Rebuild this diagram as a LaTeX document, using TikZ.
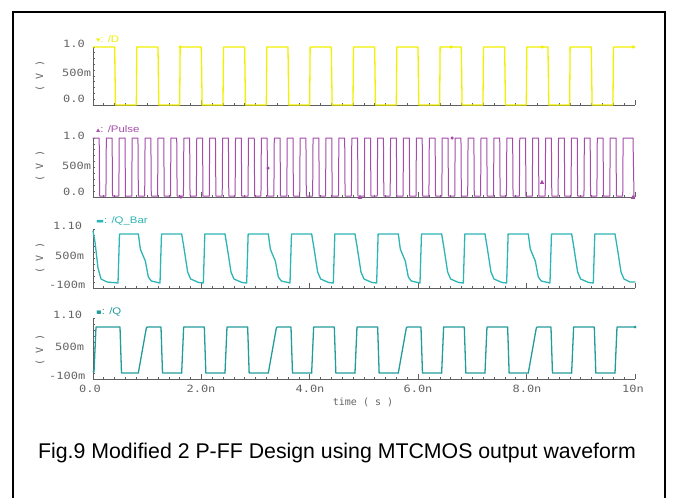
\documentclass[tikz,border=0pt]{standalone}
\usepackage{graphicx}
\usepackage{fontspec}
\setmainfont{Liberation Sans}
\newfontfamily\wavefont{DejaVu Sans Mono}
\newfontfamily\markfont{DejaVu Sans}
\usepackage{tikz}
\usetikzlibrary{arrows.meta,positioning}

\definecolor{dyellow}{RGB}{240,240,0}
\definecolor{ppurple}{RGB}{165,75,170}
\definecolor{qbteal}{RGB}{45,180,180}
\definecolor{qteal}{RGB}{35,155,155}
\definecolor{axgray}{RGB}{95,95,95}
\definecolor{labgray}{RGB}{100,100,100}

\newcommand{\widetxt}[1]{\scalebox{1.2}[1]{#1}}

\begin{document}
\begin{tikzpicture}[x=1pt, y=-1pt,
    sig/.style={line width=1.3pt, line join=round, line cap=round},
    axisline/.style={axgray, line width=0.7pt},
    ylab/.style={labgray, anchor=west, inner sep=0pt, font=\wavefont\fontsize{10}{10}\selectfont},
    unitlab/.style={labgray, rotate=90, inner sep=0pt, font=\wavefont\fontsize{10}{10}\selectfont},
    tlab/.style={labgray, inner sep=0pt, font=\wavefont\fontsize{10}{10}\selectfont},
    signame/.style={anchor=west, inner sep=0pt, font=\fontsize{9.5}{9.5}\selectfont},
    mk/.style={circle, fill, inner sep=0pt, minimum size=3.5pt}]
    \useasboundingbox (0,0) rectangle (686,498);
    \def\xo{93}
    \def\per{43.33}
    \def\hw{21.67}

    % frame
    \draw[line width=2.5pt] (13,498) -- (13,12) -- (665,12) -- (665,498);

    % x axes with ticks
    \foreach \ay in {105,197,288,379}{
        \draw[axisline] (93,\ay) -- (635,\ay);
        \foreach \i in {1,...,50} \draw[axisline] ({93+10.84*\i},\ay) -- ++(0,-2.5);
        \foreach \i in {1,...,5} \draw[axisline] ({93+108.4*\i},\ay) -- ++(0,-5);
    }
    % y axes with ticks
    \foreach \ya/\yb in {47/105,138/197,229/288,318/379}{
        \draw[axisline] (93,\ya) -- (93,\yb);
        \foreach \j in {0,...,10} \draw[axisline] (93,{\ya+(\yb-\ya)*\j/10}) -- ++(2,0);
    }

    % y labels
    \node[ylab] (dhi) at (63,44) {\widetxt{1.0}};
    \node[ylab] (dmid) at (62,73) {\widetxt{500m}};
    \node[ylab] (dlo) at (63,99) {\widetxt{0.0}};
    \node[ylab] (phi) at (63,136) {\widetxt{1.0}};
    \node[ylab] (pmid) at (62,166) {\widetxt{500m}};
    \node[ylab] (plo) at (63,192) {\widetxt{0.0}};
    \node[ylab] (qbhi) at (53,226) {\widetxt{1.10}};
    \node[ylab] (qbmid) at (55,256) {\widetxt{500m}};
    \node[ylab] (qblo) at (49,285) {\widetxt{-100m}};
    \node[ylab] (qhi) at (53,315) {\widetxt{1.10}};
    \node[ylab] (qmid) at (55,347) {\widetxt{500m}};
    \node[ylab] (qlo) at (49,376) {\widetxt{-100m}};

    \node[unitlab] (du) at (40,76) {( V )};
    \node[unitlab] (pu) at (40,166) {( V )};
    \node[unitlab] (qbu) at (40,258) {( V )};
    \node[unitlab] (qu) at (40,350) {( V )};

    % signal names
    \node[signame, dyellow] (dname) at (96,39) {\widetxt{{\markfont\fontsize{7}{7}\selectfont ▾}: /D}};
    \node[signame, ppurple] (pname) at (96,129) {\widetxt{{\markfont\fontsize{7}{7}\selectfont ▴}: /Pulse}};
    \node[signame, qbteal] (qbname) at (96,221) {\widetxt{{\markfont\fontsize{7}{7}\selectfont ▬}: /Q\_Bar}};
    \node[signame, qteal] (qname) at (96,312) {\widetxt{{\markfont\fontsize{7}{7}\selectfont ▪}: /Q}};

    % time axis labels
    \node[tlab] (t0) at (90,389) {\widetxt{0.0}};
    \node[tlab] (t2) at (201,389) {\widetxt{2.0n}};
    \node[tlab] (t4) at (310,389) {\widetxt{4.0n}};
    \node[tlab] (t6) at (418,389) {\widetxt{6.0n}};
    \node[tlab] (t8) at (527,389) {\widetxt{8.0n}};
    \node[tlab] (t10) at (633,389) {\widetxt{10n}};
    \node[tlab] (tname) at (363,402) {time ( s )};

    % D
    \draw[sig, dyellow] (93,47) \foreach \k in {0,...,11}{
        -- ({\xo+\per*\k+\hw},47) -- ({\xo+\per*\k+\hw+0.8},105)
        -- ({\xo+\per*(\k+1)},105) -- ({\xo+\per*(\k+1)+0.5},47)} -- (635,47);
    \foreach \mx in {180,451,542,633} \node[mk, dyellow] at (\mx,47) {};

    % Pulse
    \draw[sig, ppurple, line width=1pt] (93,138) \foreach \k in {0,...,40}{
        -- ({93+12.92*\k+6.2},138) -- ({93+12.92*\k+6.6},196)
        -- ({93+12.92*(\k+1)},196) -- ({93+12.92*(\k+1)+0.4},138)}
        -- (633,138) -- (634,196) -- (635,196);
    \node[mk, ppurple] at (181,197) {};
    \node[mk, ppurple] at (268,168) {};
    \node[mk, ppurple] at (452,138) {};
    \foreach \mx/\my in {360/197,542/182,633/197}
        \fill[ppurple] (\mx-2.2,\my+1.8) -- (\mx+2.2,\my+1.8) -- (\mx,\my-2.2) -- cycle;

    % Q_Bar
    \draw[sig, qbteal] (93,231) -- (95,242) -- (98,268) -- (101,279) -- (107,282) -- (118,283) -- (119.5,234) -- (138,234);
    \foreach \k in {2,3,5,6,8,9,11}
        \draw[sig, qbteal] ({\xo+\per*\k+2},234) -- ({\xo+\per*\k+4},246) -- ({\xo+\per*\k+8},272)
            -- ({\xo+\per*\k+11},279) -- ({\xo+\per*\k+19},282.5) -- ({\xo+\per*\k+\hw+2},283)
            -- ({\xo+\per*\k+\hw+3.5},234) -- ({\xo+\per*(\k+1)+2},234);
    \foreach \k in {1,4,7,10}
        \draw[sig, qbteal] ({\xo+\per*\k+2},234) -- ({\xo+\per*\k+4},249) -- ({\xo+\per*\k+6},254)
            -- ({\xo+\per*\k+9},261) -- ({\xo+\per*\k+12},277) -- ({\xo+\per*\k+15},281)
            -- ({\xo+\per*\k+\hw+2},283) -- ({\xo+\per*\k+\hw+3.5},234) -- ({\xo+\per*(\k+1)+2},234);
    \draw[sig, qbteal] (615,234) -- (617,246) -- (621,272) -- (624,279) -- (630,282) -- (635,282);

    % Q
    \draw[sig, qteal] (93,371) -- (94,372) -- (96,327) -- (120,327) -- (121.5,373) -- (138,373);
    \foreach \k in {2,3,5,6,8,9,11}
        \draw[sig, qteal] ({\xo+\per*\k+2},373) -- ({\xo+\per*\k+4},327)
            -- ({\xo+\per*\k+\hw+3},327) -- ({\xo+\per*\k+\hw+4.5},373) -- ({\xo+\per*(\k+1)+2},373);
    \foreach \k in {1,4,7,10}
        \draw[sig, qteal] ({\xo+\per*\k+2},373) -- ({\xo+\per*\k+10},328) -- ({\xo+\per*\k+11},327)
            -- ({\xo+\per*\k+\hw+3},327) -- ({\xo+\per*\k+\hw+4.5},373) -- ({\xo+\per*(\k+1)+2},373);
    \draw[sig, qteal] (615,373) -- (617,327) -- (635,327);
    \node[mk, qteal, minimum size=3pt] at (635,327) {};

    % caption
    \node[font=\fontsize{21.3}{25}\selectfont] (caption) at (337,453)
        {Fig.9 Modified 2 P-FF Design using MTCMOS output waveform};
\end{tikzpicture}
\end{document}
